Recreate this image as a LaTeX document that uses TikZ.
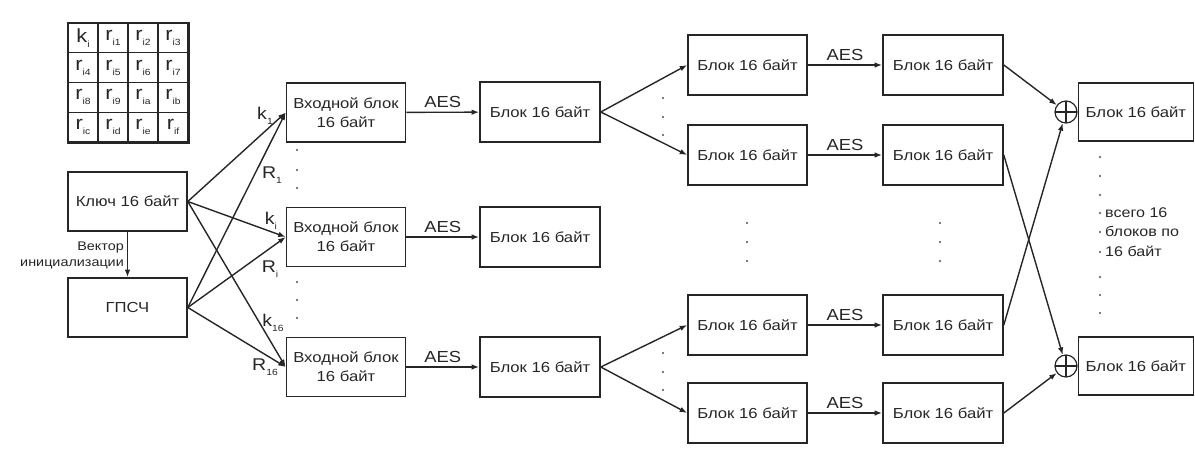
\documentclass[tikz,border=0pt]{standalone}
\usepackage{fontspec}
\setmainfont{Liberation Sans}[FakeStretch=1.15]
\usetikzlibrary{arrows.meta}
\newcommand{\lowidx}[1]{\raisebox{-0.5ex}{\fontsize{9}{9}\selectfont #1}}

\begin{document}
\begin{tikzpicture}[x=1pt,y=-1pt,
  box/.style={draw=black!85, line width=1.6pt, minimum width=119pt, minimum height=59pt,
    inner sep=0pt, align=center, text=black!85, font=\fontsize{14.5}{19}\selectfont},
  conn/.style={draw=black!85, line width=1.4pt, -{Latex[length=7.5pt,width=5.5pt]}},
  aes/.style={above=4pt, inner sep=0pt, text=black!85, font=\fontsize{16}{16}\selectfont},
  idx/.style={inner sep=0pt, text=black!85, font=\fontsize{17}{17}\selectfont},
  cell/.style={draw=black!85, line width=1.1pt, minimum width=30pt, minimum height=29.75pt,
    inner sep=0pt, text=black!85, font=\fontsize{19}{19}\selectfont},
  xorc/.style={draw=black!85, line width=1.2pt, circle, minimum size=22pt, inner sep=0pt,
    path picture={\draw[black!85, line width=1.2pt]
      (path picture bounding box.north) -- (path picture bounding box.south)
      (path picture bounding box.west) -- (path picture bounding box.east);}},
  pt/.style={fill=black!70, circle, inner sep=0pt, minimum size=2.4pt}
]
\useasboundingbox (0,0) rectangle (1195,448);

% key matrix
\foreach \t [count=\n from 0] in {k\lowidx{i},r\lowidx{i1},r\lowidx{i2},r\lowidx{i3},
  r\lowidx{i4},r\lowidx{i5},r\lowidx{i6},r\lowidx{i7},
  r\lowidx{i8},r\lowidx{i9},r\lowidx{ia},r\lowidx{ib},
  r\lowidx{ic},r\lowidx{id},r\lowidx{ie},r\lowidx{if}}{
  \pgfmathtruncatemacro\cc{mod(\n,4)}
  \pgfmathtruncatemacro\rr{div(\n,4)}
  \node[cell] (g\n) at ({83+30*\cc},{37.9+29.75*\rr}) {\t};
}
\draw[black!85, line width=1.9pt] (g0.north west) rectangle (g15.south east);

% key and generator
\node[box] (key) at (127.5,201.5) {Ключ 16 байт};
\node[box] (prng) at (127.5,307.5) {ГПСЧ};
\draw[conn] (key) -- (prng);
\node[anchor=east, align=right, inner sep=0pt, text=black!85,
  font=\fontsize{12.5}{16}\selectfont] (ivl) at (124,255) {Вектор\\инициализации};

% input blocks
\node[box] (in1) at (346,112.5) {Входной блок\\16 байт};
\node[box] (in2) at (346,237) {Входной блок\\16 байт};
\node[box] (in3) at (346,367) {Входной блок\\16 байт};

\foreach \k in {in1,in2,in3}{
  \draw[conn] (key.east) -- (\k.west);
  \draw[conn] (prng.east) -- (\k.west);
}
\node[idx] (lk1) at (265,116) {k\lowidx{1}};
\node[idx] (lR1) at (272,175) {R\lowidx{1}};
\node[idx] (lki) at (271,221) {k\lowidx{i}};
\node[idx] (lRi) at (270,269) {R\lowidx{i}};
\node[idx] (lk16) at (273,323) {k\lowidx{16}};
\node[idx] (lR16) at (265,367) {R\lowidx{16}};

% first AES stage
\node[box, minimum width=120pt, minimum height=60pt] (m1) at (540,112) {Блок 16 байт};
\node[box, minimum width=120pt, minimum height=60pt] (m2) at (540,237) {Блок 16 байт};
\node[box, minimum width=120pt, minimum height=60pt] (m3) at (540,367) {Блок 16 байт};
\draw[conn] (in1) -- node[aes] (e1) {AES} (m1);
\draw[conn] (in2) -- node[aes] (e2) {AES} (m2);
\draw[conn] (in3) -- node[aes] (e3) {AES} (m3);

% copies and second AES stage
\foreach \n/\y in {1/65,2/155,3/325,4/413}{
  \node[box, minimum height=60pt] (a\n) at (747.5,\y) {Блок 16 байт};
  \node[box, minimum width=120pt, minimum height=60pt] (b\n) at (943,\y) {Блок 16 байт};
  \draw[conn] (a\n) -- node[aes] (f\n) {AES} (b\n);
}
\draw[conn] (m1.east) -- (a1.west);
\draw[conn] (m1.east) -- (a2.west);
\draw[conn] (m3.east) -- (a3.west);
\draw[conn] (m3.east) -- (a4.west);

% xor and output blocks
\node[xorc] (x1) at (1066,112) {};
\node[xorc] (x2) at (1066,366) {};
\node[box, minimum width=115pt, minimum height=58pt, anchor=west] (c1) at (x1.east) {Блок 16 байт};
\node[box, minimum width=115pt, minimum height=58pt, anchor=west] (c2) at (x2.east) {Блок 16 байт};
\draw[conn] (b1.east) -- (x1);
\draw[conn] (b3.east) -- (x1);
\draw[conn] (b2.east) -- (x2);
\draw[conn] (b4.east) -- (x2);

\node[anchor=west, align=left, inner sep=0pt, text=black!85,
  font=\fontsize{14}{19.5}\selectfont] (tot) at (1105,232) {всего 16\\блоков по\\16 байт};

% ellipsis dots
\foreach \x/\y in {297/150,297/170,297/188,297/282,297/300,297/318,
  663/98,663/117,663/135,663/353,663/372,663/390,
  747/223,747/242,747/261,940/223,940/242,940/261,
  1100/157,1100/176,1100/195,1100/213,1100/232,1100/252,1100/277,1100/295,1100/313}{
  \node[pt] at (\x,\y) {};
}
\end{tikzpicture}
\end{document}
